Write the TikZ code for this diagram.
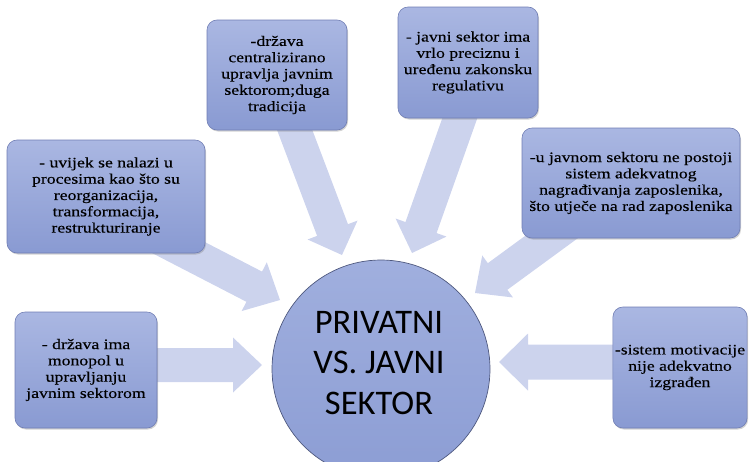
\documentclass[tikz,border=0pt]{standalone}
\usepackage{fontspec}
\setmainfont{Liberation Serif}[FakeStretch=1.22,FakeBold=0.3]
\newfontfamily\calib{Carlito}
\usetikzlibrary{calc,shadows,shapes.geometric}
\definecolor{boxtop}{RGB}{170,183,226}
\definecolor{boxbot}{RGB}{137,154,210}
\definecolor{boxline}{RGB}{112,126,180}
\definecolor{arrfill}{RGB}{198,206,235}
\definecolor{circtop}{RGB}{160,175,222}
\definecolor{circbot}{RGB}{140,157,212}
\tikzset{
  boxnode/.style={rectangle, rounded corners=10pt, draw=boxline, line width=0.6pt,
    top color=boxtop, bottom color=boxbot, align=center, inner sep=2pt,
    font=\fontsize{14.5}{16.3}\selectfont,
    drop shadow={opacity=0.35, shadow xshift=1pt, shadow yshift=-1.5pt}},
  circnode/.style={circle, draw=boxline!70!black, line width=0.7pt,
    top color=circtop, bottom color=circbot, minimum size=218pt, inner sep=0pt},
  arrowfill/.style={fill=arrfill, fill opacity=0.9},
}
\newcommand{\blockarrow}[5]{%
  \coordinate (ba-b) at ($(#2)!#5!(#1)$);
  \fill[arrowfill] ($(#1)!#3!90:(#2)$) -- ($(ba-b)!#3!-90:(#1)$)
    -- ($(ba-b)!#4!-90:(#1)$) -- (#2) -- ($(ba-b)!#4!90:(#1)$)
    -- ($(ba-b)!#3!90:(#1)$) -- ($(#1)!#3!-90:(#2)$) -- cycle;
}
\begin{document}
\begin{tikzpicture}[x=1pt,y=-1pt]
\useasboundingbox (0,0) rectangle (749,461);
% arrow anchors
\coordinate (s1) at (129,222); \coordinate (t1) at (280,300);
\coordinate (s2) at (289,115); \coordinate (t2) at (342,255);
\coordinate (s3) at (462,112); \coordinate (t3) at (412,253);
\coordinate (s4) at (572,222); \coordinate (t4) at (475,293);
\coordinate (s5) at (140,365); \coordinate (t5) at (262,365);
\coordinate (s6) at (640,362); \coordinate (t6) at (499,362);
\blockarrow{s1}{t1}{17pt}{27.4pt}{29pt}
\blockarrow{s2}{t2}{16.5pt}{26.7pt}{26.7pt}
\blockarrow{s3}{t3}{16.5pt}{27pt}{27pt}
\blockarrow{s4}{t4}{16.5pt}{26pt}{28pt}
\blockarrow{s5}{t5}{17pt}{27.5pt}{29pt}
\blockarrow{s6}{t6}{17.5pt}{28.5pt}{29pt}
% circle
\node[circnode] (c) at (381,369) {};
\node[font=\calib\fontsize{34.5}{40.5}\selectfont, align=center] (ct) at (379,363) {PRIVATNI\\VS. JAVNI\\SEKTOR};
% boxes
\node[boxnode, minimum width=198pt, minimum height=113pt] (b1) at (106,196.5)
  {- uvijek se nalazi u\\procesima kao što su\\reorganizacija,\\transformacija,\\restrukturiranje};
\node[boxnode, minimum width=140pt, minimum height=110pt] (b2) at (277,75)
  {-država\\centralizirano\\upravlja javnim\\sektorom;duga\\tradicija};
\node[boxnode, minimum width=140pt, minimum height=111pt] (b3) at (468,62.5)
  {- javni sektor ima\\vrlo preciznu i\\uređenu zakonsku\\regulativu};
\node[boxnode, minimum width=218pt, minimum height=110pt] (b4) at (631,183)
  {-u javnom sektoru ne postoji\\sistem adekvatnog\\nagrađivanja zaposlenika,\\što utječe na rad zaposlenika};
\node[boxnode, minimum width=142pt, minimum height=116pt] (b5) at (86,370)
  {- država ima\\monopol u\\upravljanju\\javnim sektorom};
\node[boxnode, minimum width=134pt, minimum height=121pt] (b6) at (680,367.5)
  {-sistem motivacije\\nije adekvatno\\izgrađen};
\end{tikzpicture}
\end{document}
